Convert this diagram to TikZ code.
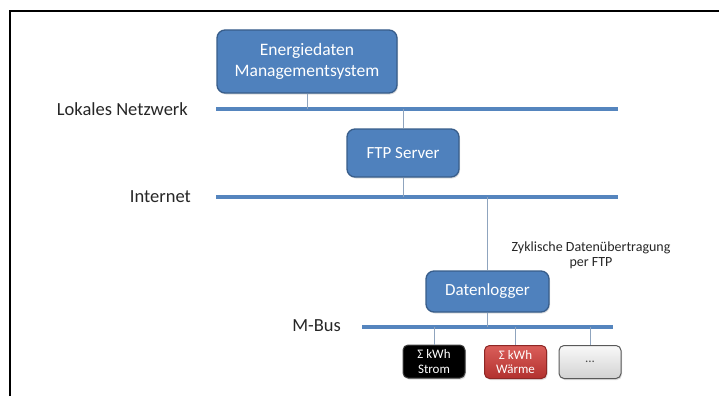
\documentclass[tikz,border=0pt]{standalone}
\usepackage{fontspec}
\setmainfont{Carlito}
\usetikzlibrary{shadows}

\definecolor{boxblue}{HTML}{4F81BD}
\definecolor{boxedge}{HTML}{385D8A}
\definecolor{netblue}{HTML}{5585BE}
\definecolor{linkgray}{HTML}{8FA4BE}
\definecolor{redtop}{HTML}{DA5E5A}
\definecolor{redbottom}{HTML}{B2312E}

\begin{document}
\begin{tikzpicture}[x=1pt, y=-1pt,
    blue box/.style={draw=boxedge, line width=1.3pt, fill=boxblue, rounded corners=8pt,
      text=white, align=center, inner sep=0pt, font=\fontsize{17}{20}\selectfont,
      drop shadow={opacity=0.25, shadow xshift=1pt, shadow yshift=-1.5pt}},
    meter/.style={rounded corners=5pt, line width=1pt, inner sep=0pt, align=center,
      minimum width=62pt, minimum height=33pt, font=\fontsize{13}{14.5}\selectfont,
      drop shadow={opacity=0.25, shadow xshift=1pt, shadow yshift=-1.5pt}},
    net/.style={draw=netblue, line width=3.5pt},
    link/.style={draw=linkgray, line width=1pt},
    netlabel/.style={anchor=east, inner sep=0pt, text=black!85, font=\fontsize{18.5}{22}\selectfont}]

    \useasboundingbox (0,0) rectangle (719,396);

    % Frame (only top and left edge are visible)
    \draw[line width=1.5pt] (10,396) -- (10,11) -- (719,11);

    % Network lines
    \coordinate (lanL) at (216,109);  \coordinate (lanR) at (618,109);
    \coordinate (inetL) at (216,197); \coordinate (inetR) at (618,197);
    \coordinate (mbusL) at (362,327); \coordinate (mbusR) at (613,327);
    \draw[net] (lanL) -- (lanR);
    \draw[net] (inetL) -- (inetR);
    \draw[net] (mbusL) -- (mbusR);

    % Labels of the networks
    \node[netlabel] (lan) at (188,109) {Lokales Netzwerk};
    \node[netlabel] (inet) at (191,197) {Internet};
    \node[netlabel] (mbus) at (341,326) {M-Bus};

    % Main boxes
    \node[blue box, minimum width=180pt, minimum height=63pt, font=\fontsize{17.5}{20.5}\selectfont]
      (ems) at (307,61.5) {Energiedaten\\Managementsystem};
    \node[blue box, minimum width=112pt, minimum height=48pt] (ftp) at (403,153) {FTP Server};
    \node[blue box, minimum width=123pt, minimum height=41pt] (logger) at (487.5,291.5) {Datenlogger};

    % Meters on the M-Bus
    \node[meter, draw=black!75, fill=black, text=white] (strom) at (434,361.5) {Σ kWh\\Strom};
    \node[meter, draw=redbottom!80!black, top color=redtop, bottom color=redbottom,
      text=white] (waerme) at (515.5,362) {Σ kWh\\Wärme};
    \node[meter, draw=black!65, top color=gray!5, bottom color=gray!35, text=black!70] (more) at (590,362) {...};

    % Transfer note
    \node[align=center, inner sep=0pt, text=black!85, font=\fontsize{14}{15}\selectfont] (note) at (591,255)
      {Zyklische Datenübertragung\\per FTP};

    % Connections to the lines
    \draw[link] (ems) -- (ems |- lanL);
    \draw[link] (ftp |- lanL) -- (ftp);
    \draw[link] (ftp) -- (ftp |- inetL);
    \draw[link] (logger |- inetL) -- (logger);
    \draw[link] (logger) -- (logger |- mbusL);
    \foreach \m in {strom,waerme,more} {
      \draw[link] (\m |- mbusL) -- (\m);
    }

  \end{tikzpicture}
\end{document}
